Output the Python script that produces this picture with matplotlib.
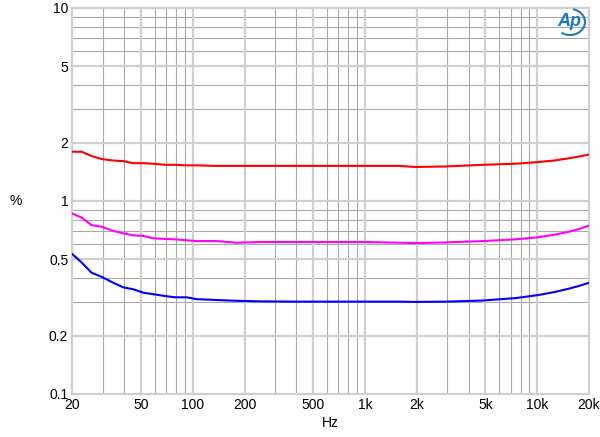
import numpy as np
import matplotlib
matplotlib.use('Agg')
import matplotlib.pyplot as plt
from matplotlib.patches import Arc

plt.rcParams['font.family'] = ['Liberation Sans', 'DejaVu Sans']

# frequency points (Hz) and THD+N (%)
freq = [20, 22.6, 25.8, 29.5, 34.5, 39.4, 45, 51.5, 58.8, 68.8, 78.6, 92, 105, 137, 179,
        245, 400, 700, 1000, 1590, 1950, 2960, 4830, 7500, 10000, 12500, 15000, 17500, 20000]
red = [1.80, 1.80, 1.71, 1.65, 1.62, 1.61, 1.57, 1.57, 1.56, 1.54, 1.54, 1.53, 1.53, 1.52, 1.52,
       1.52, 1.52, 1.52, 1.52, 1.52, 1.50, 1.51, 1.54, 1.56, 1.59, 1.62, 1.66, 1.70, 1.74]
magenta = [0.86, 0.82, 0.75, 0.736, 0.70, 0.68, 0.664, 0.659, 0.641, 0.636, 0.633, 0.626, 0.62, 0.62, 0.608,
           0.613, 0.613, 0.613, 0.613, 0.608, 0.605, 0.61, 0.62, 0.633, 0.648, 0.668, 0.69, 0.716, 0.745]
blue = [0.53, 0.48, 0.425, 0.405, 0.377, 0.357, 0.349, 0.335, 0.329, 0.322, 0.317, 0.317, 0.31, 0.307, 0.304,
        0.302, 0.301, 0.301, 0.301, 0.301, 0.300, 0.301, 0.305, 0.314, 0.325, 0.337, 0.35, 0.363, 0.377]

xticks = [20, 50, 100, 200, 500, 1000, 2000, 5000, 10000, 20000]
xticklabels = ['20', '50', '100', '200', '500', '1k', '2k', '5k', '10k', '20k']
yticks = [0.1, 0.2, 0.5, 1, 2, 5, 10]
yticklabels = ['0.1', '0.2', '0.5', '1', '2', '5', '10']

fig = plt.figure(figsize=(6, 4.37), dpi=100)
ax = fig.add_axes([0.1208, 0.0984, 0.8609, 0.8833])
ax.set_xscale('log')
ax.set_yscale('log')
ax.set_xlim(20, 20000)
ax.set_ylim(0.1, 10)

# grid: labelled lines light and thick, the rest darker and thin
minor_x = [m * 10 ** e for e in range(1, 5) for m in range(2, 10)] + [10 ** e for e in range(2, 5)]
minor_x = [v for v in minor_x if 20 <= v <= 20000 and v not in xticks]
minor_y = [m * 10 ** e for e in range(-1, 1) for m in range(1, 10)] + [10]
minor_y = [v for v in minor_y if v not in yticks]
for v in minor_x:
    ax.axvline(v, color='#a8a8a8', lw=0.8, zorder=1)
for v in minor_y:
    ax.axhline(v, color='#a8a8a8', lw=0.8, zorder=1)
for v in xticks:
    ax.axvline(v, color='#cfcfcf', lw=1.6, zorder=1, clip_on=False)
for v in yticks:
    ax.axhline(v, color='#cfcfcf', lw=1.6, zorder=1, clip_on=False)

ax.plot(freq, red, color='#ff0000', lw=1.5, zorder=3)
ax.plot(freq, magenta, color='#ff00ff', lw=1.5, zorder=3)
ax.plot(freq, blue, color='#0000ff', lw=1.5, zorder=3)

for s in ax.spines.values():
    s.set_visible(False)

ax.set_xticks(xticks)
ax.set_xticklabels(xticklabels)
ax.set_yticks(yticks)
ax.set_yticklabels(yticklabels)
ax.minorticks_off()
ax.tick_params(length=0, labelsize=10, pad=3)

fig.text(330 / 600, 1 - 423 / 437, 'Hz', ha='center', va='center', fontsize=10)
fig.text(16 / 600, 1 - 201 / 437, '%', ha='center', va='center', fontsize=10)

# Ap logo
fig.text(569 / 600, 1 - 22 / 437, 'Ap', ha='center', va='center', fontsize=13,
         style='italic', color='#1f78c1', fontweight='bold')
fig.add_artist(Arc((570 / 600, 1 - 22 / 437), 30 / 600, 26 / 437, theta1=-120, theta2=80,
                   color='#1f78c1', lw=1.5, transform=fig.transFigure))

fig.savefig('out.png', dpi=100)
